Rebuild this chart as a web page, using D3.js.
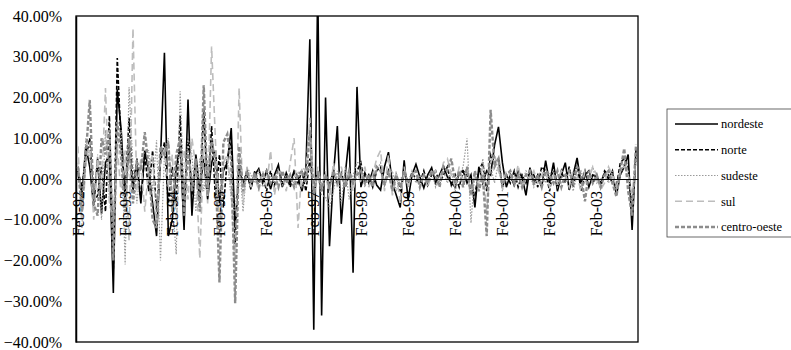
<!DOCTYPE html>
<html>
<head>
<meta charset="utf-8">
<script src="https://cdn.jsdelivr.net/npm/d3@7"></script>
<style>
html,body{margin:0;padding:0;background:#fff;}
svg{display:block;}
</style>
</head>
<body>
<svg id="chart" width="791" height="350"></svg>
<script>
// ---- data (monthly % change, Feb-92 .. Dec-03) ----
const monthNames = ["Jan","Feb","Mar","Apr","May","Jun","Jul","Aug","Sep","Oct","Nov","Dec"];
const startYear = 1992, startMonth = 1, nMonths = 143;
const categories = [];
for (let k = 0; k < nMonths; k++) {
  const m = (startMonth + k) % 12, yr = startYear + Math.floor((startMonth + k) / 12);
  categories.push(monthNames[m] + "-" + String(yr).slice(2));
}
const tickLabels = ["Feb-92","Feb-93","Feb-94","Feb-95","Feb-96","Feb-97","Feb-98","Feb-99","Feb-00","Feb-01","Feb-02","Feb-03"];
const yTicks = [-40,-30,-20,-10,0,10,20,30,40];
const seriesNames = ["nordeste","norte","sudeste","sul","centro-oeste"];

const nordeste = [
 1.5,-4,8,3,-7,5,-8.5,4,6,-28,22,12,
 -5,9,-3,4,-6,7,2,-6,-14,5,31,-14,
 -10,3,8,-12.5,19.5,-9,6,-3,5,-5,4,7,
 -6,2,4,12.5,-12,3,-1.5,2,-2,1,2.5,-1,
 2,-2.5,1,3.5,-2,1.5,-1,2,0.5,-3,2.5,34.3,
 -37,48,-33.5,20,-16.5,1,13,-11,1,10.4,-23,22.6,
 -2,1.5,-1,2,-1.5,-2.7,3,6.6,-1,-4,-7,4.6,
 -5.2,1,3.6,0.5,-2.2,1,2.8,-1,1,3.2,0.5,-1,
 -2,1.5,2,-1,1,-7,3,-1,2,1,8.3,12.8,
 4,-2,1,-1.5,2,0.5,-4,2.8,-1,1,-2,4.5,
 -1,4,-3,1,4,-2.7,1,5.2,-1,2,-2,1,
 0.5,-1,1.5,0,2,-4,1,3,6,-12.5,7.5];
const norte = [
 2,-2,5,10,-6,-4,3,-8,15.5,-22,29.7,8,
 -4,15,-2,5,-5,6,-3,7,-8,4,9,-6,
 3,-7,15.5,-8,10,-4,5,-6,17,-4,13,-5,
 6,-7,5,9,-16,5,-1,1.5,-2.5,2,-1,1,
 -3,2,-1.5,2.5,-1,1,-2,1.5,-1,2,-3,5,
 -3,2,-2,1,-1.5,2,-1,1.5,-2,1,-1,2,
 4,-1,1,-2,2,3,-1.5,2,-2,1,-3,2,
 -1,1.5,0,-1,2,-1.5,1,2,-1,1,3,-1.5,
 1,-2,2,1,-3,-4,2,4,-3,6,4,5,
 -2,1,-1,2,-2,1,-1,2,1,-2,3,2,
 -3,3,-2,2,-1,3,-2,4,-3,1,2,-1,
 1,-2,2,1,-1,-2,4,5,3,-8,6];
const sudeste = [
 4,-6,10,5,-4,6,-10,12,-5,-12,8,12,
 -21,22.5,3,-6,4,7,7,-3,9.5,-20,6,10,
 -5,-18.5,21.5,-4,10,6,-8,5,-3,4,8,6,
 -4,3,5,-5,-8,6,-8,3,1,-1,2,-2,
 1,0.5,-1,2,-1.5,1,0,-1,1.5,-2,1,3,
 -2,1,-4,-4.4,-7,-3,2,-6,3,-5,1,4,
 4,-2,1,-1,2,4,-2,1,2,-3,0,1,
 -2,2,-1,1,0,-1,2,-2,1,2,-1,2,
 -3,1,3,10,-10.8,2,-3,5,-2,3,-1,4,
 -3,1,2,-2,1,-1,2,1,-2,1,2,-1,
 1,2,-2,1,-1,2,-3,1,2,-1,1,3,
 -1,0,1,-1,2,-3,1,4,2,-6,5];
const sul = [
 8,-12,4,9,-10,5,-3,22.3,-6,-10,8,-4,
 7,-15,37,-3,5,-8,3,6,-12,4,8,-2,
 6,-10,4,7,-5,10,3,-19.5,8,-6,32.5,9,
 -12,4,6,-3,-22,22.3,-6,3,-2,1,-3,2,
 -2,7,-4,2,1,-3,4,10,-12,3,2,15,
 -5,3,-2,2,-5,4,-2,3,-1,2,-3,2,
 -1,3,-2,1,5,7,-3,6,-4,2,-6,3,
 -2,1,2,-1,1,-2,1,2,-1,4,5,1,
 -2,3,-1,2,-4,1,-2,3,-8,4,6,2,
 -1,2,1,-1,3.5,-2,1,0,2,-1,1,2,
 -2,1,-1,2,1,-2,2,1,-3,2,0,3,
 1,-2.7,-1,3,1,-2,2,3,1,-4,5];
const centroOeste = [
 3,-8,6,19.4,-6,-9,10,6,12,-20,14,5,
 -8,10,-6,4,2,11.5,3,-10,-12,8,6,9,
 -8,6,10,-9,7,-3,5,-8,23,-4,10,3,
 -25.4,9,11,4,-30.5,8,-3,2,-1,1.5,-2,1,
 2,-1,1,-2,2,-1,1,-2,1,2,-1,12,
 -4,2,-3,1,-2,2,-1,1,-2,2,-1,1,
 2,-1,1,-2,3,2,-1,2,-3,1,-2,2,
 -1,1,2,-2,1,-1,2,1,-2,3,2,5,
 -1,2,-2,3,-4,2,-3,1,-14,17,3,5,
 -2,1,2,-1,1,-2,1,2,-1,1,-2,2,
 1,-1,2,-2,1,2,-1,3,1,-5.5,2,-1,
 1,-2,1,2,-1,-4.3,2,7.5,-3,-9,8.5];

const seriesValues = [nordeste, norte, sudeste, sul, centroOeste];
const seriesStyles = [
  {color:"#000000", width:1.6, dash:null},
  {color:"#000000", width:1.6, dash:"4,2"},
  {color:"#9a9a9a", width:1.2, dash:"1.5,1.5"},
  {color:"#bdbdbd", width:1.6, dash:"7,4"},
  {color:"#8c8c8c", width:2.4, dash:"4,2"}
];

// ---- layout ----
const plot = {left:76, right:638, top:16, bottom:342};
const serif = "Liberation Serif";
const svg = d3.select("#chart");

const x = d3.scaleBand().domain(categories).range([plot.left, plot.right]).padding(0);
const y = d3.scaleLinear().domain([-40, 40]).range([plot.bottom, plot.top]);
const cx = c => x(c) + x.bandwidth() / 2;

svg.append("defs").append("clipPath").attr("id","plotclip")
  .append("rect").attr("x", plot.left).attr("y", plot.top)
  .attr("width", plot.right - plot.left).attr("height", plot.bottom - plot.top);

// plot frame
svg.append("rect").attr("x", plot.left).attr("y", plot.top)
  .attr("width", plot.right - plot.left).attr("height", plot.bottom - plot.top)
  .attr("fill", "#fff").attr("stroke", "#000").attr("stroke-width", 1.3);

// y axis labels
const yAxis = d3.axisLeft(y).tickValues(yTicks).tickSize(0).tickPadding(14)
  .tickFormat(d => d3.format(".2f")(d) + "%");
const gy = svg.append("g").attr("transform", `translate(${plot.left},0)`).call(yAxis)
  .attr("font-family", serif).attr("font-size", 16);
gy.select(".domain").attr("stroke", "#000").attr("stroke-width", 1.5);
gy.selectAll("text").attr("font-family", serif).attr("font-size", 16).attr("fill", "#000");

// series lines
const line = d3.line().x((d, i) => cx(categories[i])).y(d => y(d));
const gl = svg.append("g").attr("clip-path", "url(#plotclip)");
seriesValues.forEach((vals, k) => {
  const st = seriesStyles[k];
  gl.append("path").datum(vals)
    .attr("d", line).attr("fill", "none")
    .attr("stroke", st.color).attr("stroke-width", st.width)
    .attr("stroke-dasharray", st.dash)
    .attr("stroke-linejoin", "miter");
});

// x axis at zero
const xAxis = d3.axisBottom(x).tickValues(tickLabels).tickSize(0);
const gx = svg.append("g").attr("transform", `translate(0,${y(0)})`).call(xAxis)
  .attr("font-family", serif).attr("font-size", 16);
gx.select(".domain").attr("stroke", "#000").attr("stroke-width", 1);
gx.selectAll("text")
  .attr("font-family", serif).attr("font-size", 16).attr("fill", "#000")
  .attr("transform", "rotate(-90)").attr("text-anchor", "end")
  .attr("x", -12).attr("y", 0).attr("dy", "0.35em");

// legend
const lg = svg.append("g");
lg.append("rect").attr("x", 667).attr("y", 109).attr("width", 140).attr("height", 128)
  .attr("fill", "#fff").attr("stroke", "#444").attr("stroke-width", 0.8);
const legendY = d3.scalePoint().domain(seriesNames).range([124, 227]);
seriesNames.forEach((name, k) => {
  const st = seriesStyles[k];
  const yy = legendY(name);
  lg.append("line").attr("x1", 675).attr("x2", 718).attr("y1", yy).attr("y2", yy)
    .attr("stroke", st.color).attr("stroke-width", st.width).attr("stroke-dasharray", st.dash);
  lg.append("text").attr("x", 721).attr("y", yy).attr("dy", "0.35em")
    .attr("font-family", serif).attr("font-size", 12.5).attr("fill", "#000")
    .text(name);
});
</script>
</body>
</html>
